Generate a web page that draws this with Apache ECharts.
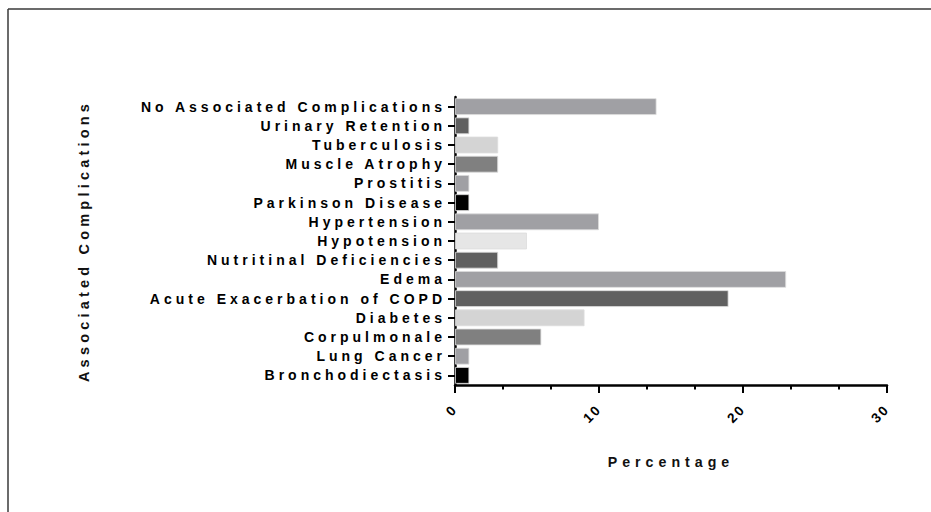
<!DOCTYPE html>
<html>
<head>
<meta charset="utf-8">
<script src="https://cdn.jsdelivr.net/npm/echarts@6/dist/echarts.min.js"></script>
<style>
  html, body { margin: 0; padding: 0; background: #fff; }
  #chart { width: 931px; height: 512px; }
  /* letter spacing per text role (selected by font size) */
  #chart text[style*="14px"] { letter-spacing: 4px; }
  #chart text[style*="14.5px"] { letter-spacing: 4.2px; }
  #chart text[style*="14.2px"] { letter-spacing: 5px; }
  #chart text[style*="13.6px"] { letter-spacing: 2px; }
</style>
</head>
<body>
<div id="chart"></div>
<script>
// Categories, top to bottom
const categories = [
  'No Associated Complications',
  'Urinary Retention',
  'Tuberculosis',
  'Muscle Atrophy',
  'Prostitis',
  'Parkinson Disease',
  'Hypertension',
  'Hypotension',
  'Nutritinal Deficiencies',
  'Edema',
  'Acute Exacerbation of COPD',
  'Diabetes',
  'Corpulmonale',
  'Lung Cancer',
  'Bronchodiectasis'
];
// Percentage values
const percentages = [14, 1, 3, 3, 1, 1, 10, 5, 3, 23, 19, 9, 6, 1, 1];
// Bar fill colours (style)
const barColors = [
  '#a0a0a4', '#606060', '#d4d4d4', '#808080', '#a0a0a4',
  '#000000', '#a0a0a4', '#e6e6e6', '#606060', '#a0a0a4',
  '#606060', '#d4d4d4', '#808080', '#a0a0a4', '#000000'
];
const xTicks = { min: 0, max: 30, interval: 10 };

const font = "'Liberation Sans', Arial, sans-serif";
const chart = echarts.init(document.getElementById('chart'), null, { renderer: 'svg' });

chart.setOption({
  animation: false,
  backgroundColor: '#ffffff',
  graphic: [
    { type: 'line', shape: { x1: 8, y1: 9, x2: 931, y2: 9 }, style: { stroke: '#3a3a3a', lineWidth: 1.5 } },
    { type: 'line', shape: { x1: 8, y1: 9, x2: 8, y2: 512 }, style: { stroke: '#3a3a3a', lineWidth: 1.5 } }
  ],
  grid: { left: 455, right: 44, top: 97, bottom: 127, containLabel: false },
  xAxis: {
    type: 'value',
    min: xTicks.min, max: xTicks.max, interval: xTicks.interval,
    name: 'Percentage',
    nameLocation: 'middle',
    nameGap: 70,
    nameTextStyle: { fontFamily: font, fontWeight: 'bold', fontSize: 14.2, color: '#111' },
    axisLine: { show: true, lineStyle: { color: '#000', width: 2.5 } },
    axisTick: { show: true, length: 8, lineStyle: { color: '#000', width: 2 } },
    minorTick: { show: true, splitNumber: 3, length: 4.5, lineStyle: { color: '#000', width: 2 } },
    splitLine: { show: false },
    axisLabel: { rotate: 45, margin: 22, fontFamily: font, fontWeight: 'bold', fontSize: 13.6, color: '#000' }
  },
  yAxis: {
    type: 'category',
    data: categories,
    inverse: true,
    name: 'Associated Complications',
    nameLocation: 'middle',
    nameGap: 364,
    nameTextStyle: { fontFamily: font, fontWeight: 'bold', fontSize: 14.5, color: '#111' },
    axisLine: { show: true, lineStyle: { color: '#000', width: 2.5 } },
    axisTick: { show: true, alignWithLabel: true, length: 7, lineStyle: { color: '#000', width: 2 } },
    axisLabel: { interval: 0, margin: 9, fontFamily: font, fontWeight: 'bold', fontSize: 14, color: '#000' }
  },
  series: [{
    type: 'bar',
    data: percentages.map((v, i) => ({ value: v, itemStyle: { color: barColors[i] } })),
    barCategoryGap: '12%',
    itemStyle: { borderColor: 'rgba(220,220,220,0.8)', borderWidth: 1 }
  }]
});
</script>
</body>
</html>
